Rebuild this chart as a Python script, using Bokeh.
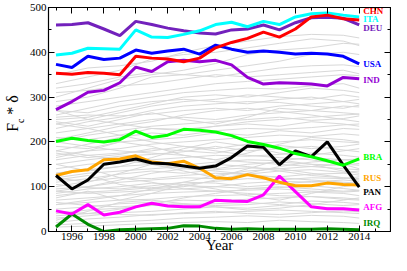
from bokeh.plotting import figure
from bokeh.models import SingleIntervalTicker, FixedTicker, LinearAxis, Range1d, ColumnDataSource
from bokeh.core.properties import value
from bokeh.embed import file_html
from bokeh.resources import INLINE

# ---------------- data ----------------
years = list(range(1995, 2015))

chn = [353, 351, 355, 353, 350, 391, 387, 385, 379, 387, 410, 422, 431, 445, 434, 452, 479, 483, 475, 472]
ita = [394, 398, 409, 408, 407, 450, 434, 433, 440, 448, 462, 467, 457, 469, 462, 479, 486, 488, 483, 479]
deu = [461, 462, 466, 452, 437, 469, 462, 454, 448, 443, 441, 450, 452, 461, 450, 466, 477, 478, 476, 461]
usa = [373, 366, 391, 384, 387, 405, 398, 403, 407, 396, 416, 407, 400, 403, 400, 396, 398, 396, 391, 374]
ind = [272, 290, 311, 315, 332, 367, 357, 379, 382, 379, 382, 372, 344, 329, 332, 331, 329, 325, 344, 341]
bra = [201, 208, 203, 200, 205, 224, 210, 215, 228, 226, 222, 214, 201, 194, 186, 174, 167, 158, 148, 162]
rus = [125, 134, 138, 160, 162, 169, 155, 151, 157, 141, 120, 118, 127, 120, 110, 102, 102, 108, 105, 104]
pan = [125, 95, 115, 150, 155, 162, 153, 151, 146, 141, 146, 165, 191, 188, 149, 180, 167, 200, 148, 99]
afg = [46, 39, 60, 37, 43, 55, 63, 57, 55, 55, 70, 68, 67, 82, 124, 89, 55, 51, 51, 48]
irq = [10, 39, 16, 0, 4, 5, 6, 7, 13, 12, 7, 5, 6, 5, 5, 5, 5, 6, 5, 4]

names = ["IRQ", "AFG", "RUS", "PAN", "BRA", "IND", "USA", "DEU", "ITA", "CHN"]
series = [irq, afg, rus, pan, bra, ind, usa, deu, ita, chn]
colors = ["#008B00", "#FF00FF", "#FFA500", "#000000", "#00FF00",
          "#9400D3", "#0000FF", "#7221BC", "#00FFFF", "#FF0000"]
label_y = [19, 54, 120, 89, 166, 338, 373, 454, 475, 492]

gray_years = [1995, 1997, 1999, 2001, 2003, 2005, 2007, 2009, 2011, 2013, 2014]
gray = [
    [330, 345, 360, 385, 395, 400, 410, 420, 430, 425, 415],
    [300, 320, 340, 350, 360, 375, 395, 405, 410, 420, 418],
    [320, 330, 345, 355, 350, 360, 370, 380, 395, 400, 395],
    [290, 300, 320, 345, 350, 345, 355, 365, 370, 372, 368],
    [310, 315, 325, 330, 340, 350, 345, 350, 355, 360, 352],
    [280, 290, 300, 310, 320, 330, 335, 340, 345, 350, 348],
    [260, 275, 290, 300, 310, 315, 320, 318, 325, 330, 320],
    [250, 255, 270, 285, 300, 305, 300, 310, 320, 315, 310],
    [240, 250, 265, 280, 290, 295, 305, 300, 295, 305, 300],
    [270, 265, 280, 290, 295, 290, 285, 295, 300, 290, 285],
    [230, 245, 255, 270, 280, 285, 290, 288, 280, 275, 282],
    [255, 260, 258, 262, 270, 275, 270, 280, 285, 290, 295],
    [220, 230, 240, 250, 255, 250, 260, 265, 270, 265, 262],
    [200, 215, 225, 235, 240, 245, 250, 255, 248, 252, 258],
    [210, 205, 215, 230, 228, 235, 240, 235, 245, 240, 235],
    [180, 195, 210, 220, 215, 225, 230, 228, 232, 238, 240],
    [190, 185, 200, 205, 210, 220, 215, 225, 220, 230, 228],
    [170, 180, 185, 195, 200, 205, 210, 215, 212, 218, 215],
    [160, 170, 175, 180, 190, 185, 195, 200, 205, 200, 198],
    [175, 165, 172, 185, 180, 175, 188, 192, 185, 190, 195],
    [150, 160, 168, 172, 178, 190, 180, 185, 190, 182, 178],
    [140, 150, 155, 160, 165, 170, 168, 172, 175, 170, 166],
    [130, 138, 145, 150, 148, 155, 160, 158, 165, 160, 162],
    [120, 130, 135, 140, 145, 140, 150, 155, 150, 148, 152],
    [110, 118, 128, 135, 130, 138, 142, 140, 145, 150, 140],
    [100, 112, 120, 118, 125, 130, 128, 135, 138, 132, 135],
    [95, 100, 110, 115, 120, 118, 125, 122, 128, 130, 126],
    [85, 95, 100, 108, 105, 112, 118, 115, 120, 118, 122],
    [80, 88, 92, 98, 102, 100, 108, 112, 110, 115, 112],
    [105, 98, 95, 102, 110, 108, 100, 105, 112, 108, 104],
    [90, 85, 88, 92, 95, 100, 96, 98, 102, 96, 92],
    [70, 75, 80, 85, 88, 90, 92, 95, 90, 88, 90],
    [60, 65, 70, 72, 78, 80, 82, 85, 88, 85, 80],
    [50, 55, 62, 65, 70, 68, 72, 75, 78, 72, 70],
    [40, 48, 52, 58, 60, 62, 65, 60, 68, 65, 62],
    [30, 35, 42, 45, 50, 55, 52, 58, 55, 52, 50],
    [20, 28, 32, 38, 40, 42, 45, 48, 45, 42, 40],
    [15, 18, 22, 25, 30, 32, 35, 32, 36, 34, 30],
    [10, 12, 15, 18, 20, 22, 20, 25, 22, 20, 18],
    [65, 58, 55, 60, 62, 58, 60, 66, 62, 58, 60],
    [35, 40, 38, 36, 42, 45, 40, 38, 42, 46, 44],
    [180, 170, 160, 150, 140, 135, 128, 120, 115, 110, 108],
    [240, 230, 215, 200, 190, 180, 170, 165, 160, 150, 148],
    [130, 140, 120, 110, 95, 90, 85, 80, 78, 75, 72],
    [90, 100, 115, 130, 140, 150, 145, 135, 125, 120, 118],
    [60, 70, 80, 95, 110, 125, 135, 140, 130, 120, 115],
    [200, 190, 180, 175, 170, 160, 155, 150, 145, 140, 138],
    [45, 40, 50, 60, 75, 85, 95, 100, 95, 90, 92],
    [270, 250, 240, 230, 225, 235, 245, 250, 255, 260, 262],
    [150, 135, 145, 165, 185, 200, 190, 175, 170, 180, 185],
    [115, 125, 105, 95, 100, 115, 130, 145, 155, 160, 158],
    [25, 45, 65, 70, 62, 55, 48, 52, 60, 70, 75],
    [205, 220, 235, 245, 260, 270, 275, 268, 260, 250, 245],
    [350, 365, 370, 380, 400, 415, 425, 435, 440, 438, 432],
    [120, 110, 130, 150, 135, 120, 140, 160, 150, 135, 130],
    [75, 90, 70, 85, 105, 95, 80, 70, 85, 100, 105],
    [165, 180, 200, 190, 170, 160, 175, 195, 210, 205, 200],
    [245, 235, 250, 265, 250, 240, 255, 275, 270, 280, 278],
]

# ---------------- layout ----------------
W, H = 391, 255
X0, X1 = 1994.53, 2015.96
Y0, Y1 = 0, 500
SERIF = "Liberation Serif"
NB = "\u00a0"

p = figure(width=W, height=H, x_range=Range1d(X0, X1), y_range=Range1d(Y0, Y1),
           output_backend="svg", toolbar_location=None,
           x_axis_type=None, y_axis_type=None,
           min_border_left=0, min_border_right=1, min_border_top=7, min_border_bottom=0)
p.background_fill_color = "white"
p.border_fill_color = "white"
p.outline_line_color = "black"
p.outline_line_width = 1.2
p.xgrid.visible = False
p.ygrid.visible = False


def make_axis(ticker, labels=True):
    ax = LinearAxis(ticker=ticker)
    ax.major_tick_in = 6
    ax.major_tick_out = 0
    ax.minor_tick_in = 3
    ax.minor_tick_out = 0
    ax.axis_line_color = "black"
    ax.major_tick_line_color = "black"
    ax.minor_tick_line_color = "black"
    ax.axis_label_standoff = 0
    ax.axis_label_text_font = SERIF
    ax.axis_label_text_font_style = "normal"
    ax.axis_label_text_color = "black"
    if labels:
        ax.major_label_text_font = SERIF
        ax.major_label_text_font_size = "11px"
        ax.major_label_text_color = "black"
    else:
        ax.major_label_text_color = None
        ax.major_label_text_font_size = "1px"
        ax.major_label_standoff = 0
    return ax


xt = SingleIntervalTicker(interval=2, num_minor_ticks=2)
yt = SingleIntervalTicker(interval=100, num_minor_ticks=2)

bottom = make_axis(xt)
bottom.major_label_standoff = 1
bottom.axis_label = "Year"
bottom.axis_label_text_font_size = "15px"
bottom.axis_label_standoff = -6

# inner left axis: ticks, tick labels and the subscript "c" of the title
left = make_axis(yt)
left.major_label_standoff = 2
left.axis_label = "c" + NB
left.axis_label_text_font_size = "10px"
left.axis_label_standoff = 1

# outer left axis: carries only the main part of the title "F_c * δ"
ytitle = LinearAxis(ticker=FixedTicker(ticks=[]))
ytitle.axis_line_color = None
ytitle.major_tick_line_color = None
ytitle.minor_tick_line_color = None
ytitle.major_tick_in = 0
ytitle.major_tick_out = 0
ytitle.minor_tick_in = 0
ytitle.minor_tick_out = 0
ytitle.major_label_standoff = 0
ytitle.axis_label = NB * 3 + "F" + NB + NB + "*" + NB + "\u03b4"
ytitle.axis_label_text_font = SERIF
ytitle.axis_label_text_font_size = "16px"
ytitle.axis_label_text_font_style = "normal"
ytitle.axis_label_text_color = "black"
ytitle.axis_label_standoff = -9

top = make_axis(xt, labels=False)
right = make_axis(yt, labels=False)
p.add_layout(bottom, "below")
p.add_layout(left, "left")
p.add_layout(ytitle, "left")
p.add_layout(top, "above")
p.add_layout(right, "right")

# background gray lines
p.multi_line(xs=[gray_years] * len(gray), ys=gray, line_color="#D8D8D8", line_width=1)

# colored series
for s, c in zip(series, colors):
    p.line(years, s, line_color=c, line_width=3)

# country labels
lab_src = ColumnDataSource(dict(x=[2014.25] * len(names), y=label_y, text=names, color=colors))
p.text(x="x", y="y", text="text", text_color="color", source=lab_src,
       text_font=value(SERIF), text_font_style="bold", text_font_size="9px",
       text_baseline="middle", text_align="left")

open("out.html", "w").write(file_html(p, INLINE))
